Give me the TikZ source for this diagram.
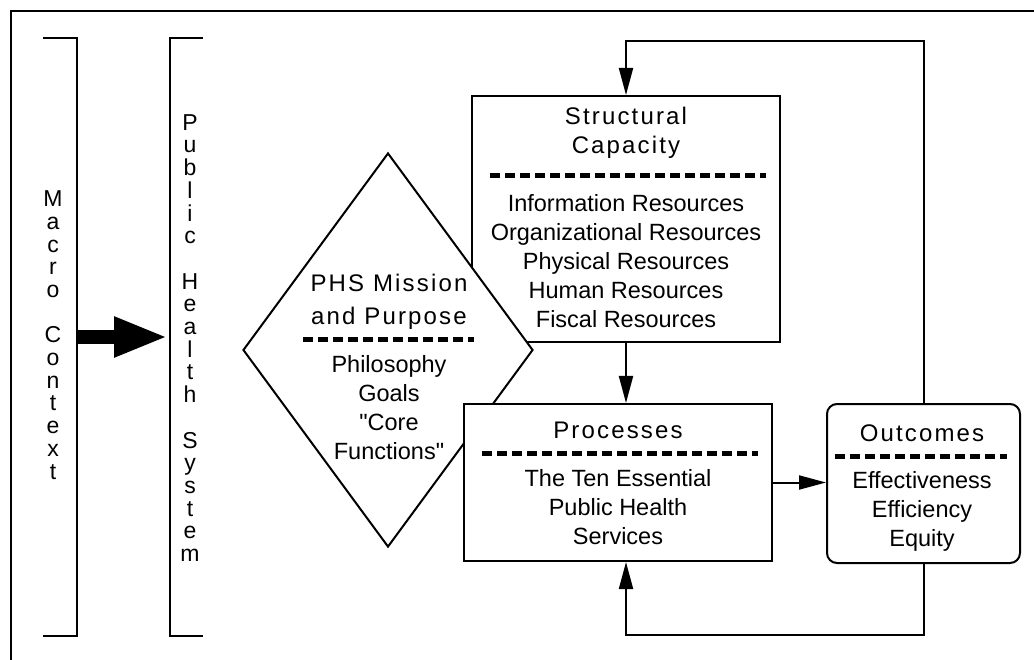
\documentclass[tikz,border=0pt]{standalone}
\usepackage{fontspec}
\setmainfont{Liberation Sans}
\newfontfamily\bodyfont{Liberation Sans}
\newfontfamily\ttlfont[LetterSpace=9]{Liberation Sans}
\usetikzlibrary{arrows.meta,shapes.geometric}
\begin{document}
\begin{tikzpicture}[x=1pt,y=-1pt,
  line join=miter,
  frameline/.style={line width=2.5pt},
  brack/.style={line width=2pt},
  boxline/.style={draw, line width=2pt, fill=white, inner sep=0pt},
  arr/.style={line width=2pt, -{Triangle[length=27pt,width=14pt]}},
  bigarr/.style={line width=14pt, -{Triangle[length=54pt,width=37pt]}},
  sepline/.style={line width=5pt, dash pattern=on 10pt off 5pt},
  body/.style={font=\bodyfont\fontsize{23.5}{29}\selectfont, align=center, inner sep=0pt},
  ttl/.style={font=\ttlfont\fontsize{24}{29}\selectfont, align=center, inner sep=0pt},
  vert/.style={font=\bodyfont\fontsize{23}{22.7}\selectfont, align=center, inner sep=0pt},
]
\useasboundingbox (0,0) rectangle (1034,660);
% frame (top and left only)
\draw[frameline] (11,660) -- (11,11) -- (1034,11);

% brackets
\draw[brack] (43,38) -- (77,38) -- (77,636) -- (43,636);
\draw[brack] (203,38) -- (170,38) -- (170,636) -- (203,636);
\coordinate (mcR) at (77,337);
\coordinate (phL) at (168,337);
\draw[bigarr] (mcR) -- (phL);

\node[vert] (macro) at (53,335) {M\\a\\c\\r\\o\\\mbox{}\\C\\o\\n\\t\\e\\x\\t};
\node[vert] (phs) at (190,338) {P\\u\\b\\l\\i\\c\\\mbox{}\\H\\e\\a\\l\\t\\h\\\mbox{}\\S\\y\\s\\t\\e\\m};

% boxes
\node[boxline, minimum width=308pt, minimum height=246pt] (sc) at (626,219) {};
\node[draw, line width=2pt, fill=white, diamond, minimum width=290pt, minimum height=394pt, inner sep=0pt] (mis) at (388,350) {};
\node[boxline, minimum width=308pt, minimum height=157pt] (proc) at (618,482.5) {};
\node[boxline, rounded corners=10pt, minimum width=193pt, minimum height=159pt] (out) at (923.5,483.5) {};

% separators
\draw[sepline] (490,176) -- (766,176);
\draw[sepline] (303,340) -- (474,340);
\draw[sepline] (482,453) -- (758,453);
\draw[sepline] (835,456) -- (1007,456);

% texts
\node[ttl] (sct) at (626,133) {Structural\\Capacity};
\node[body] (scb) at (626,261) {Information Resources\\Organizational Resources\\Physical Resources\\Human Resources\\Fiscal Resources};
\node[ttl, font=\ttlfont\fontsize{24}{33}\selectfont] (mist) at (389,302) {PHS Mission\\and Purpose};
\node[body] (misb) at (389,408) {Philosophy\\Goals\\"Core\\Functions"};
\node[ttl] (proct) at (618,430) {Processes};
\node[body] (procb) at (618,507) {The Ten Essential\\Public Health\\Services};
\node[ttl] (outt) at (922,433) {Outcomes};
\node[body] (outb) at (922,511) {Effectiveness\\Efficiency\\Equity};

% connectors
\coordinate (topc) at (775,41);
\coordinate (botc) at (775,635);
\draw[arr] (out.north) |- (topc) -| (sc.north);
\draw[arr] (sc.south) -- (sc.south |- proc.north);
\draw[arr] (proc.east) -- (proc.east -| out.west);
\draw[arr] (out.south) |- (botc) -| (proc.south -| sc.south);
\end{tikzpicture}
\end{document}
